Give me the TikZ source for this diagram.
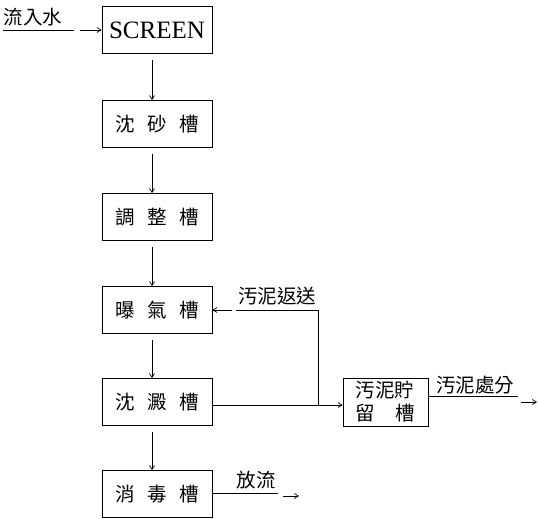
\documentclass[tikz,border=0pt]{standalone}
\usepackage{fontspec}
\setmainfont{Liberation Serif}
\newfontfamily\cjk{Noto Sans CJK TC}
\usetikzlibrary{arrows.meta,calc}
\newcommand{\gapsp}{\hspace{0.65em}}
\begin{document}
\begin{tikzpicture}[x=1pt,y=-1pt,
  line width=0.8pt,
  box/.style={draw,minimum width=110pt,minimum height=47pt,inner sep=0pt,font=\cjk\fontsize{19.5}{22}\selectfont},
  lbl/.style={font=\cjk\fontsize{19.5}{22}\selectfont,inner sep=0pt},
  arr/.style={-{Straight Barb[length=4pt,width=5pt]},line width=0.7pt}]
\useasboundingbox (0,0) rectangle (538,519);
\node[box,font=\rmfamily\fontsize{25}{27}\selectfont] (screen) at (157,30) {SCREEN};
\node[box] (sand) at (157,124) {沈\gapsp 砂\gapsp 槽};
\node[box] (adj) at (157,217) {調\gapsp 整\gapsp 槽};
\node[box] (aer) at (157,310) {曝\gapsp 氣\gapsp 槽};
\node[box] (sed) at (157,402) {沈\gapsp 澱\gapsp 槽};
\node[box] (dis) at (157,494) {消\gapsp 毒\gapsp 槽};
\node[draw,minimum width=85pt,minimum height=48pt,inner sep=0pt,align=left,font=\cjk\fontsize{19.5}{23}\selectfont] (sto) at (385.5,402) {汚泥貯\\留\hspace{1.05em}槽};
% inflow
\node[lbl] (inl) at (33,17) {流入水};
\coordinate (in0) at (3,30);
\coordinate (in1) at (74,30);
\coordinate (in2) at (80,30);
\draw (in0) -- (in1);
\draw[arr] (in2) -- (screen.west);
% vertical arrows
\coordinate (ax) at (152,0);
\foreach \a/\b in {screen/sand,sand/adj,adj/aer,aer/sed,sed/dis}{
  \draw[arr] ([yshift=-6pt]\a.south -| ax) -- (\b.north -| ax);
}
% return sludge
\node[lbl] (ret) at (277,296) {汚泥返送};
\coordinate (rj) at (318,310);
\coordinate (rl) at (236,310);
\coordinate (ra) at (232,310);
\coordinate (sj) at (318,405);
\draw (sj) -- (rj) -- (rl);
\draw[arr] (ra) -- (aer.east |- ra);
% to sludge storage
\draw[arr] (sed.east |- sj) -- (sto.west |- sj);
% sludge disposal
\node[lbl] (disp) at (475,385) {汚泥處分};
\coordinate (d0) at (518,396);
\coordinate (d1) at (521,402);
\coordinate (d2) at (537,402);
\draw (sto.east |- d0) -- (d0);
\draw[arr] (d1) -- (d2);
% discharge
\node[lbl] (out) at (256,480) {放流};
\coordinate (o0) at (278,493);
\coordinate (o1) at (283,496);
\coordinate (o2) at (299,496);
\draw (dis.east |- o0) -- (o0);
\draw[arr] (o1) -- (o2);
\end{tikzpicture}
\end{document}
